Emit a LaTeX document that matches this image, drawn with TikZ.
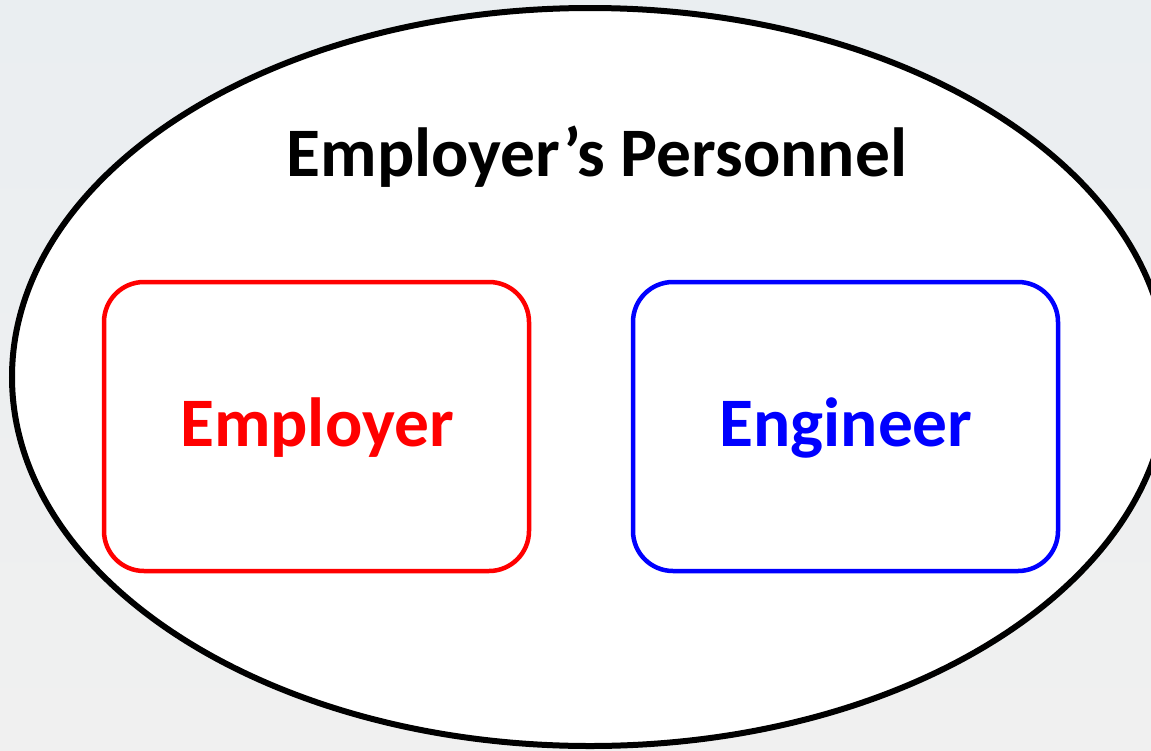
\documentclass[tikz,border=0pt]{standalone}
\usepackage{fontspec}
\setmainfont{Carlito}
\begin{document}
\begin{tikzpicture}[x=1pt,y=-1pt,
  backdrop/.style={top color=bgtop,bottom color=bgbot,draw=none},
  outerset/.style={draw=black,line width=6pt,fill=white},
  memberbox/.style={rounded corners=40pt,line width=4.5pt,fill=white},
  labeltext/.style={font=\bfseries\fontsize{69.5}{80}\selectfont,inner sep=0pt}]
\definecolor{bgtop}{RGB}{234,238,241}
\definecolor{bgbot}{RGB}{240,240,240}
\definecolor{empred}{RGB}{255,0,0}
\definecolor{engblue}{RGB}{0,0,255}
\useasboundingbox (0,0) rectangle (1151,750);
\clip (0,0) rectangle (1151,750);
% background
\fill[backdrop] (0,0) rectangle (1151,750);
% the enclosing set of personnel
\draw[outerset] (590,377) ellipse [x radius=578, y radius=369];
% the two members
\draw[memberbox,draw=empred] (104,282) rectangle (529,571);
\draw[memberbox,draw=engblue] (633,282) rectangle (1058,571);
% labels
\node[labeltext,text=black] (title) at (597,157) {Employer’s Personnel};
\node[labeltext,text=empred] (employer) at (317,428) {Employer};
\node[labeltext,text=engblue] (engineer) at (846,428) {Engineer};
\end{tikzpicture}
\end{document}
